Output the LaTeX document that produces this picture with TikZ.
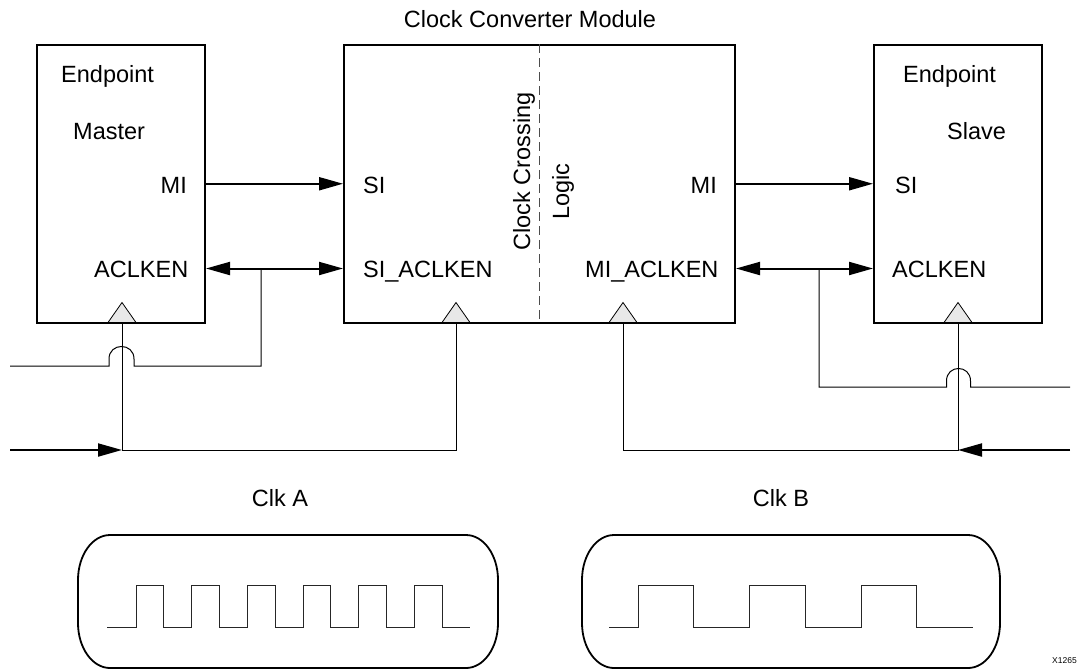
\documentclass[tikz,border=0pt]{standalone}
\usepackage{fontspec}
\setmainfont{Liberation Sans}
\usetikzlibrary{arrows.meta,calc}
\begin{document}
\begin{tikzpicture}[x=1pt,y=-1pt,
  lbl/.style={inner sep=0pt,font=\fontsize{23.5}{28}\selectfont},
  blk/.style={draw,line width=2pt,minimum width=168pt,minimum height=277.5pt,inner sep=0pt},
  bus/.style={line width=2pt},
  tipR/.style={-{Triangle[length=24pt,width=13pt]}},
  tipLR/.style={{Triangle[length=24pt,width=13pt]}-{Triangle[length=24pt,width=13pt]}},
  wire/.style={line width=1pt},
  wave/.style={line width=1pt,draw=black!85},
  clktri/.style={draw,line width=0.8pt,fill=black!9,line join=miter},
  frame/.style={draw,line width=1.8pt},
]
\useasboundingbox (0,0) rectangle (1086,670);

% blocks
\node[blk] (master) at (121,183.75) {};
\node[blk,minimum width=391pt] (conv) at (539.5,183.75) {};
\node[blk] (slave) at (958,183.75) {};
\draw[draw=black!70,line width=1pt,dash pattern=on 9pt off 5pt] (conv.north) -- (conv.south);

% texts
\node[lbl,anchor=base] (title) at (530,27) {Clock Converter Module};
\node[lbl,anchor=base west] (epM) at (61,82) {Endpoint};
\node[lbl,anchor=base west] (mst) at (73,139) {Master};
\node[lbl,anchor=base east] (miM) at (187,193) {MI};
\node[lbl,anchor=base west] (ackM) at (94,277) {ACLKEN};
\node[lbl,anchor=base west] (siC) at (363,193) {SI};
\node[lbl,anchor=base west] (siackC) at (363,277) {SI\_ACLKEN};
\node[lbl,anchor=base east] (miC) at (717,193) {MI};
\node[lbl,anchor=base west] (miackC) at (585,277) {MI\_ACLKEN};
\node[lbl,anchor=base,rotate=90] (ccl) at (530,171.5) {Clock Crossing};
\node[lbl,anchor=base,rotate=90] (lgc) at (569,191.5) {Logic};
\node[lbl,anchor=base west] (epS) at (903,82) {Endpoint};
\node[lbl,anchor=base west] (slv) at (947,139) {Slave};
\node[lbl,anchor=base west] (siS) at (895,193) {SI};
\node[lbl,anchor=base west] (ackS) at (892,277) {ACLKEN};
\node[lbl,anchor=base] (clkA) at (280,506) {Clk A};
\node[lbl,anchor=base] (clkB) at (781,506) {Clk B};
\node[inner sep=0pt,anchor=base east,font=\fontsize{8.5}{10}\selectfont] (xid) at (1077,663) {X1265};

% coordinates
\coordinate (ack) at (0,268.5);
\coordinate (jL) at (261,268.5);
\coordinate (jR) at (819,268.5);
\coordinate (tM) at (122,322.5);
\coordinate (tC1) at (456,322.5);
\coordinate (tC2) at (623,322.5);
\coordinate (tS) at (958,322.5);
\coordinate (inL1) at (10,366);
\coordinate (inL2) at (10,450);
\coordinate (inR1) at (1070,387);
\coordinate (inR2) at (1070,450);

% data connectors
\draw[bus,tipR] (master.east) -- (conv.west);
\draw[bus,tipR] (conv.east) -- (slave.west);
\draw[bus,tipLR] (master.east |- ack) -- (conv.west |- ack);
\draw[bus,tipLR] (conv.east |- ack) -- (slave.west |- ack);

% aclken enables
\draw[wire] (jL) -- (261,366) -- (134,366) -- (134,359)
  .. controls (134,342.3) and (109,342.3) .. (109,359) -- (109,366) -- (inL1);
\draw[wire] (jR) -- (819,387) -- (946.5,387) -- (946.5,381)
  .. controls (946.5,364.3) and (970.5,364.3) .. (970.5,381) -- (970.5,387) -- (inR1);

% clocks
\draw[wire] (tM) -- (tM |- inL2) -- (tC1 |- inL2) -- (tC1);
\draw[wire] (tC2) -- (tC2 |- inR2) -- (tS |- inR2) -- (tS);
\draw[bus,tipR] (inL2) -- (tM |- inL2);
\draw[bus,tipR] (inR2) -- (tS |- inR2);

% clock triangles
\foreach \c in {tM,tC1,tC2,tS}{
  \draw[clktri] (\c) ++(-14,0) -- ++(14,-20) -- ++(14,20) -- cycle;
}

% clock frames
\draw[frame] (110,535) -- (466,535) .. controls (483.7,535) and (498,555.2) .. (498,580)
  -- (498,623) .. controls (498,647.8) and (483.7,668) .. (466,668)
  -- (110,668) .. controls (92.3,668) and (78,647.8) .. (78,623)
  -- (78,580) .. controls (78,555.2) and (92.3,535) .. (110,535) -- cycle;
\draw[frame] (614,535) -- (968,535) .. controls (985.7,535) and (1000,555.2) .. (1000,580)
  -- (1000,623) .. controls (1000,647.8) and (985.7,668) .. (968,668)
  -- (614,668) .. controls (596.3,668) and (582,647.8) .. (582,623)
  -- (582,580) .. controls (582,555.2) and (596.3,535) .. (614,535) -- cycle;

% waveforms
\draw[wave] (107,627)
  \foreach \r in {136,191.7,247.4,303.1,358.8,414.5}{
    -- (\r,627) -- (\r,585) -- ({\r+27.6},585) -- ({\r+27.6},627)
  } -- (470,627);
\draw[wave] (609,627)
  \foreach \r in {638,749.5,861}{
    -- (\r,627) -- (\r,585) -- ({\r+55.5},585) -- ({\r+55.5},627)
  } -- (973,627);
\end{tikzpicture}
\end{document}
